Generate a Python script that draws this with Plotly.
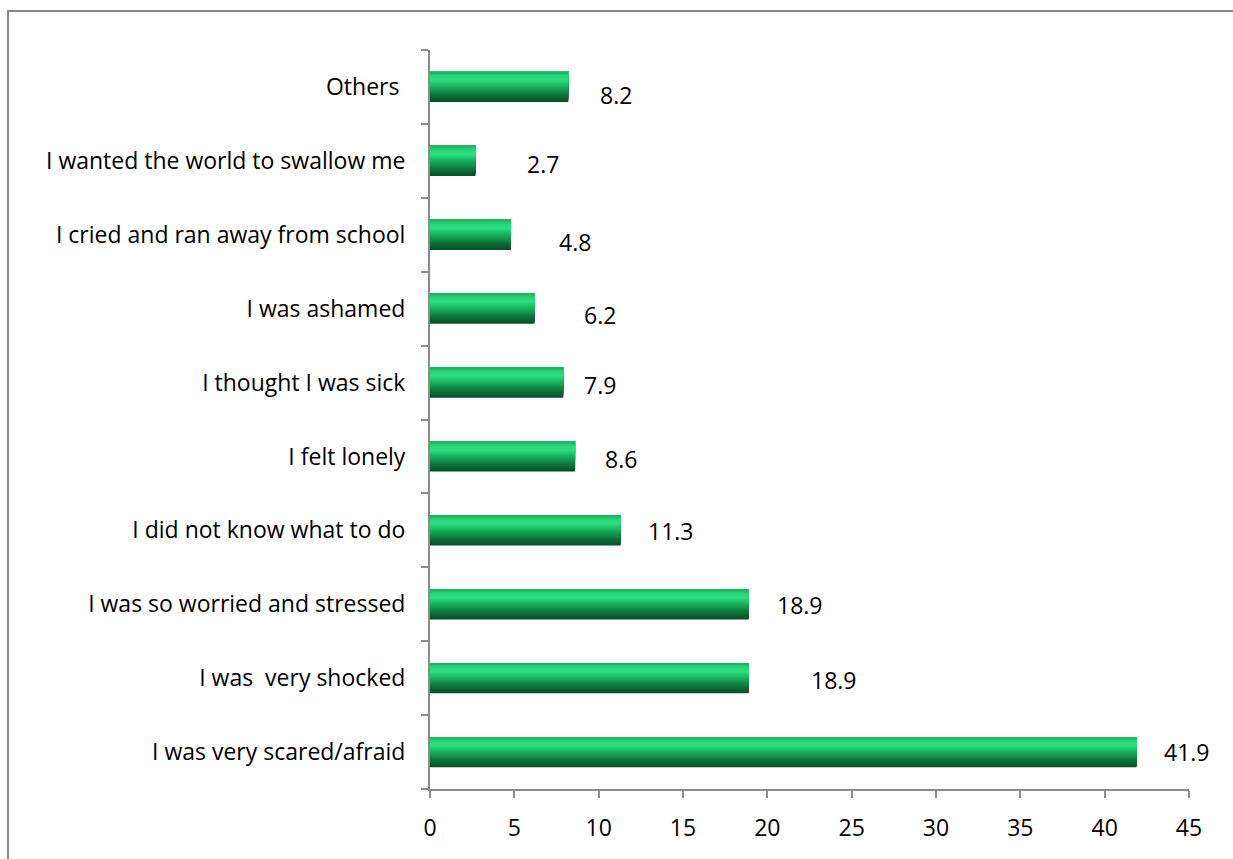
import plotly.graph_objects as go

# Responses, listed bottom to top
categories = [
    "I was very scared/afraid",
    "I was  very shocked",
    "I was so worried and stressed",
    "I did not know what to do",
    "I felt lonely",
    "I thought I was sick",
    "I was ashamed",
    "I cried and ran away from school",
    "I wanted the world to swallow me",
    "Others ",
]
values = [41.9, 18.9, 18.9, 11.3, 8.6, 7.9, 6.2, 4.8, 2.7, 8.2]
x_ticks = [0, 5, 10, 15, 20, 25, 30, 35, 40, 45]

# Label placement tweaks (pixels): gap right of the bar end, and downward nudge
label_gap = [25, 60, 26, 25, 28, 19, 47, 46, 49, 30]
label_drop = [0, 2, 1, 1, 3, 2, 6, 7, 3, 8]

FONT = "Open Sans"
FSIZE = 23
bar_w = 0.41

# Gradient stops across the bar thickness (0 = bottom edge, 1 = top edge)
stops = [(0.0, (6, 76, 38)), (0.25, (14, 120, 60)), (0.5, (24, 176, 90)),
         (0.72, (44, 224, 128)), (0.85, (40, 214, 120)), (1.0, (30, 176, 96))]


def shade(t):
    for (t0, c0), (t1, c1) in zip(stops, stops[1:]):
        if t <= t1:
            f = (t - t0) / (t1 - t0)
            return "rgb(%d,%d,%d)" % tuple(round(a + (b - a) * f) for a, b in zip(c0, c1))
    return "rgb(%d,%d,%d)" % stops[-1][1]


n = 24
fig = go.Figure()
# Each band runs from its own lower edge up to the top of the bar; later
# bands sit over earlier ones so the seams blend into neighbouring shades.
for k in range(n):
    start = -bar_w / 2 + k * bar_w / n
    fig.add_trace(go.Bar(
        x=values, y=categories, orientation="h",
        width=bar_w / 2 - start,
        offset=start,
        marker=dict(color=shade((k + 0.5) / n), line=dict(width=0)),
        showlegend=False, hoverinfo="skip",
    ))

annotations = []
for cat, v, gap, drop in zip(categories, values, label_gap, label_drop):
    annotations.append(dict(
        x=v, y=cat, xref="x", yref="y", text=f"{v:.1f}",
        showarrow=False, xanchor="left", yanchor="middle",
        xshift=gap, yshift=-drop,
        font=dict(family=FONT, size=FSIZE, color="#000000"),
    ))

fig.update_layout(
    width=1233, height=859,
    margin=dict(l=430, r=44, t=50, b=70),
    paper_bgcolor="white", plot_bgcolor="white",
    barmode="overlay",
    annotations=annotations,
    shapes=[dict(
        type="rect", xref="paper", yref="paper",
        x0=(8 - 430) / 759, x1=1.2, y0=-0.3, y1=(789 - 11) / 739,
        line=dict(color="#888888", width=2), fillcolor="rgba(0,0,0,0)",
        layer="below",
    )],
    xaxis=dict(
        range=[0, 45], tickvals=x_ticks, ticktext=[str(t) for t in x_ticks],
        showgrid=False, zeroline=False,
        showline=True, linecolor="#8c8c8c", linewidth=2,
        ticks="outside", ticklen=7, tickcolor="#8c8c8c", tickwidth=2,
        ticklabelstandoff=10,
        tickfont=dict(family=FONT, size=FSIZE, color="#000000"),
        fixedrange=True,
    ),
    yaxis=dict(
        range=[-0.5, 9.5], categoryorder="array", categoryarray=categories,
        showgrid=False, zeroline=False,
        showline=True, linecolor="#8c8c8c", linewidth=2,
        ticks="outside", ticklen=7, tickcolor="#8c8c8c", tickwidth=2,
        tickson="boundaries", ticklabelstandoff=18,
        tickfont=dict(family=FONT, size=FSIZE, color="#000000"),
        fixedrange=True,
    ),
)

fig.write_html("out.html")
